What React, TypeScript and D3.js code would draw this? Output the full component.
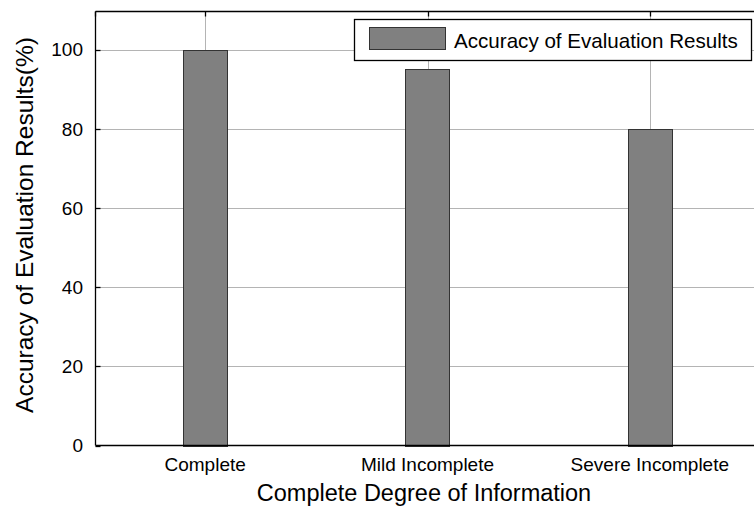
import React from "react";
import * as d3 from "d3";

const categories = ["Complete", "Mild Incomplete", "Severe Incomplete"];
const accuracy = [100, 95, 80];
const yTicks = [0, 20, 40, 60, 80, 100];
const seriesName = "Accuracy of Evaluation Results";
const xTitle = "Complete Degree of Information";
const yTitle = "Accuracy of Evaluation Results(%)";

const W = 754;
const H = 506;
const left = 95.5;
const top = 11.5;
const bottom = 445.5;
const FONT = "'Liberation Sans', Arial, sans-serif";

export default function App() {
  const x = d3.scaleLinear().domain([0.5, 3.5]).range([94, 761]);
  const y = d3.scaleLinear().domain([0, 100]).range([bottom, 49.5]);
  const barW = x(1.1) - x(0.9);
  const gridColor = "#b4b4b4";

  return (
    <svg
      width={W}
      height={H}
      style={{ position: "absolute", left: 0, top: 0, background: "#fff" }}
      fontFamily={FONT}
    >
      <rect x={0} y={0} width={W} height={H} fill="#fff" />
      {/* horizontal gridlines */}
      {yTicks.slice(1).map((t) => (
        <line key={"hg" + t} x1={left} x2={W} y1={Math.round(y(t)) + 0.5} y2={Math.round(y(t)) + 0.5} stroke={gridColor} strokeWidth={1} />
      ))}
      {/* vertical gridlines */}
      {categories.map((c, i) => (
        <line key={"vg" + c} x1={Math.round(x(i + 1)) + 0.5} x2={Math.round(x(i + 1)) + 0.5} y1={top} y2={bottom} stroke={gridColor} strokeWidth={1} />
      ))}
      {/* bars */}
      {accuracy.map((v, i) => (
        <rect
          key={"b" + i}
          x={Math.round(x(i + 1) - barW / 2) + 0.5}
          y={Math.round(y(v)) + 0.5}
          width={Math.round(barW)}
          height={Math.round(y(0)) - Math.round(y(v))}
          fill="#808080"
          stroke="#333"
          strokeWidth={1}
        />
      ))}
      {/* axes box */}
      <line x1={left} x2={W} y1={top} y2={top} stroke="#000" strokeWidth={1.3} />
      <line x1={left} x2={W} y1={bottom} y2={bottom} stroke="#000" strokeWidth={1.3} />
      <line x1={left} x2={left} y1={top} y2={bottom} stroke="#000" strokeWidth={1.3} />
      {/* y ticks */}
      {yTicks.map((t) => (
        <g key={"yt" + t}>
          <line x1={left} x2={left + 5} y1={Math.round(y(t)) + 0.5} y2={Math.round(y(t)) + 0.5} stroke="#000" strokeWidth={1.3} />
          <text x={83} y={y(t)} dy="0.36em" textAnchor="end" fontSize={19} fill="#000">
            {t}
          </text>
        </g>
      ))}
      {/* x ticks top */}
      {categories.map((c, i) => (
        <line key={"xt" + c} x1={Math.round(x(i + 1)) + 0.5} x2={Math.round(x(i + 1)) + 0.5} y1={top} y2={top + 5} stroke="#000" strokeWidth={1.3} />
      ))}
      <line x1={left} x2={left} y1={top} y2={top + 5} stroke="#000" strokeWidth={1.3} />
      {/* x tick labels */}
      {categories.map((c, i) => (
        <text key={"xl" + c} x={x(i + 1)} y={471} textAnchor="middle" fontSize={19} fill="#000">
          {c}
        </text>
      ))}
      {/* axis titles */}
      <text x={424} y={501} textAnchor="middle" fontSize={23.5} fill="#000">
        {xTitle}
      </text>
      <text
        transform={`translate(33, 225) rotate(-90)`}
        textAnchor="middle"
        fontSize={24.5}
        fill="#000"
      >
        {yTitle}
      </text>
      {/* legend */}
      <rect x={354.5} y={19.5} width={397} height={41} fill="#fff" stroke="#000" strokeWidth={1.3} />
      <rect x={369.5} y={27.5} width={76} height={22} fill="#808080" stroke="#333" strokeWidth={1} />
      <text x={454} y={48} fontSize={20.6} fill="#000">
        {seriesName}
      </text>
    </svg>
  );
}
